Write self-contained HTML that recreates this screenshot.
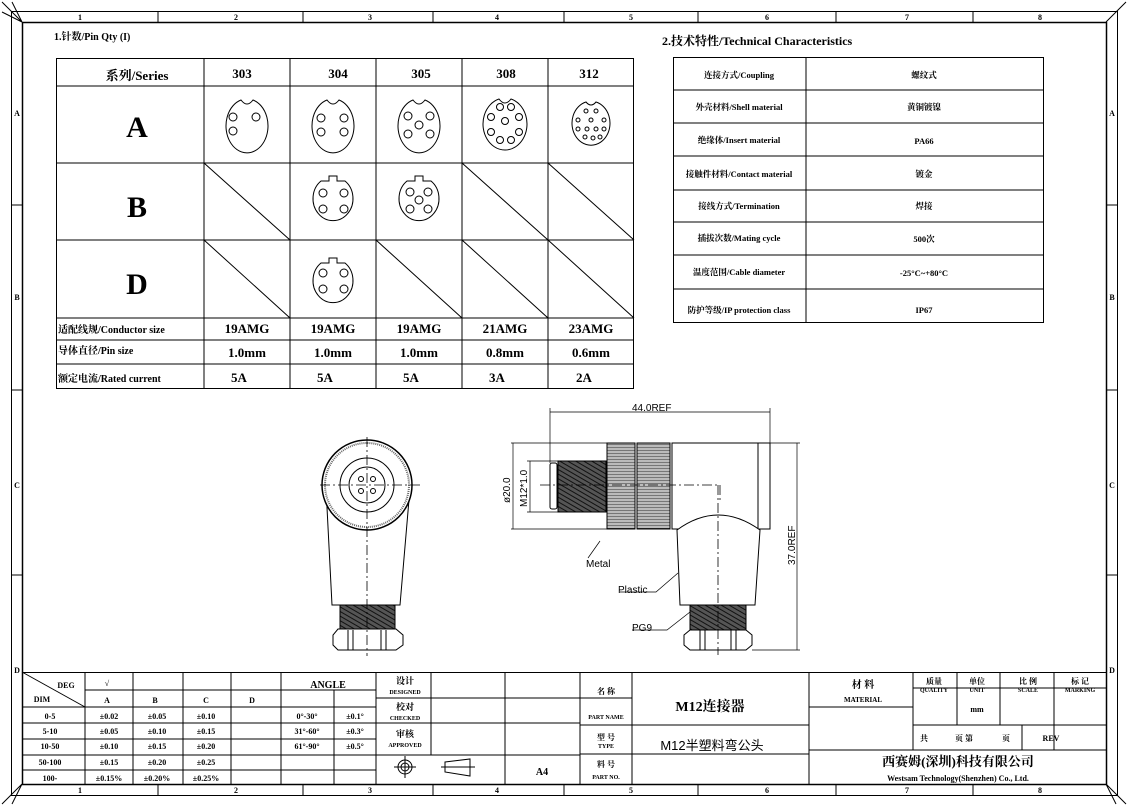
<!DOCTYPE html>
<html><head><meta charset="utf-8"><style>
html,body{margin:0;padding:0;background:#fff}
svg{display:block}
text{font-family:"Liberation Serif","Noto Serif CJK SC","Noto Sans CJK SC",serif;font-weight:bold;fill:#000}
.s{font-family:"Liberation Sans","Noto Sans CJK SC",sans-serif;font-weight:normal}
</style></head><body>
<svg width="1128" height="806" viewBox="0 0 1128 806" xmlns="http://www.w3.org/2000/svg">
<defs>
<pattern id="thr" width="4" height="4" patternUnits="userSpaceOnUse" patternTransform="rotate(-60)">
<rect width="4" height="4" fill="#555"/><line x1="0" y1="0" x2="0" y2="4" stroke="#111" stroke-width="2"/></pattern>
<pattern id="knl" width="6" height="3" patternUnits="userSpaceOnUse">
<rect width="6" height="3" fill="#bbb"/><line x1="0" y1="0" x2="6" y2="0" stroke="#333" stroke-width="1"/></pattern>
</defs>
<g fill="none" stroke="#000" stroke-width="1">
<rect x="11.5" y="11.5" width="1106" height="784"/>
<rect x="22.5" y="22.5" width="1084" height="762" stroke-width="1.5"/>
<path d="M2 2L22 22M2 12L22 22M12 2L22 22M1126 2L1106 22M1126 804L1106 784M1116 804L1106 784M2 804L22 784M12 804L22 784"/>
<path d="M158 11V22M303 11V22M433 11V22M564 11V22M698 11V22M836 11V22M973 11V22"/>
<path d="M158 785V795M303 785V795M433 785V795M564 785V795M698 785V795M836 785V795M973 785V795"/>
<path d="M11 205H22M11 390H22M11 575H22M1106 205H1117M1106 390H1117M1106 575H1117"/>
<rect x="56.5" y="58.5" width="577" height="330"/>
<path d="M56 86H634M56 163H634M56 240H634M56 318H634M56 340H634M56 364H634"/>
<path d="M204 58V388M290 58V388M376 58V388M462 58V388M548 58V388"/>
<path d="M204 163L290 240M462 163L548 240M548 163L634 240M204 240L290 318M376 240L462 318M462 240L548 318M548 240L634 318"/>
<path d="M241 100A21 27 0 1 0 253 100Q247 108 241 100Z"/>
<circle cx="233" cy="117" r="4"/><circle cx="256" cy="117" r="4"/><circle cx="233" cy="131" r="4"/>
<path d="M327 100A21 27 0 1 0 339 100Q333 108 327 100Z"/>
<circle cx="321" cy="118" r="4"/><circle cx="344" cy="118" r="4"/><circle cx="321" cy="132" r="4"/><circle cx="344" cy="132" r="4"/>
<path d="M413 100A21 27 0 1 0 425 100Q419 108 413 100Z"/>
<circle cx="408" cy="116" r="4"/><circle cx="430" cy="116" r="4"/><circle cx="419" cy="125" r="4"/><circle cx="408" cy="134" r="4"/><circle cx="430" cy="134" r="4"/>
<path d="M499 99A22 26 0 1 0 511 99Q505 107 499 99Z"/>
<circle cx="500" cy="107" r="3.5"/><circle cx="511" cy="107" r="3.5"/><circle cx="491" cy="117" r="3.5"/><circle cx="519" cy="117" r="3.5"/><circle cx="505" cy="121" r="3.5"/><circle cx="491" cy="132" r="3.5"/><circle cx="519" cy="132" r="3.5"/><circle cx="500" cy="140" r="3.5"/><circle cx="511" cy="140" r="3.5"/>
<path d="M586 102A19 22 0 1 0 596 102Q591 108 586 102Z"/>
<g transform="translate(591,124)"><circle cx="-5" cy="-13" r="2"/><circle cx="5" cy="-13" r="2"/><circle cx="-13" cy="-4" r="2"/><circle cx="0" cy="-4" r="2"/><circle cx="13" cy="-4" r="2"/><circle cx="-13" cy="5" r="2"/><circle cx="-4" cy="5" r="2"/><circle cx="5" cy="5" r="2"/><circle cx="13" cy="5" r="2"/><circle cx="-6" cy="13" r="2"/><circle cx="2" cy="14" r="2"/><circle cx="9" cy="13" r="2"/></g>
<path d="M329 181V176H337V181H345A20 22 0 1 1 321 181Z"/>
<circle cx="323" cy="193" r="4"/><circle cx="344" cy="193" r="4"/><circle cx="323" cy="209" r="4"/><circle cx="344" cy="209" r="4"/>
<path d="M415 181V176H423V181H431A20 22 0 1 1 407 181Z"/>
<circle cx="410" cy="192" r="4"/><circle cx="428" cy="192" r="4"/><circle cx="419" cy="200" r="4"/><circle cx="410" cy="209" r="4"/><circle cx="428" cy="209" r="4"/>
<path d="M329 263V258H337V263H345A20 22 0 1 1 321 263Z"/>
<circle cx="323" cy="273" r="4"/><circle cx="344" cy="273" r="4"/><circle cx="323" cy="289" r="4"/><circle cx="344" cy="289" r="4"/>
<rect x="673.5" y="57.5" width="370" height="265"/>
<path d="M806 57V322M673 90H1043M673 123H1043M673 156H1043M673 190H1043M673 222H1043M673 255H1043M673 289H1043"/>
<rect x="22.5" y="672.5" width="1084" height="112"/>
<path d="M22 707H376M22 723H376M22 739H376M22 755H376M22 770H376"/>
<path d="M85 690H281M281 690H376M22 672L85 707"/>
<path d="M85 672V785M133 672V785M183 672V785M231 672V785M281 672V785M334 690V785M376 672V785M431 672V755M505 672V785M580 672V785M632 672V785"/>
<path d="M376 698H580M376 723H580M376 755H580M580 698H632M580 725H809M580 754H809M809 672V785M809 707H913M913 672V750M957 672V725M1000 672V725M1054 672V750M913 688H1107M913 725H1107M809 750H1107M1022 725V750"/>
<circle cx="405" cy="767" r="7"/><circle cx="405" cy="767" r="4"/><path d="M394 767H416M405 756V778"/>
<path d="M445 762L470 759V776L445 772ZM441 767H475"/>
</g>
<g font-size="8" text-anchor="middle">
<text x="80" y="20">1</text><text x="236" y="20">2</text><text x="370" y="20">3</text><text x="497" y="20">4</text><text x="631" y="20">5</text><text x="767" y="20">6</text><text x="907" y="20">7</text><text x="1040" y="20">8</text>
<text x="80" y="793">1</text><text x="236" y="793">2</text><text x="370" y="793">3</text><text x="497" y="793">4</text><text x="631" y="793">5</text><text x="767" y="793">6</text><text x="907" y="793">7</text><text x="1040" y="793">8</text>
<text x="17" y="116">A</text><text x="17" y="300">B</text><text x="17" y="488">C</text><text x="17" y="673">D</text>
<text x="1112" y="116">A</text><text x="1112" y="300">B</text><text x="1112" y="488">C</text><text x="1112" y="673">D</text>
</g>
<text x="54" y="40" font-size="10">1.针数/Pin Qty (I)</text>
<g text-anchor="middle" font-size="13">
<text x="137" y="80">系列/Series</text>
<text x="242" y="78">303</text><text x="338" y="78">304</text><text x="421" y="78">305</text><text x="506" y="78">308</text><text x="589" y="78">312</text>
<text x="137" y="137" font-size="30" font-weight="normal">A</text>
<text x="137" y="217" font-size="30" font-weight="normal">B</text>
<text x="137" y="294" font-size="30" font-weight="normal">D</text>
<text x="247" y="333">19AMG</text><text x="333" y="333">19AMG</text><text x="419" y="333">19AMG</text><text x="505" y="333">21AMG</text><text x="591" y="333">23AMG</text>
<text x="247" y="357">1.0mm</text><text x="333" y="357">1.0mm</text><text x="419" y="357">1.0mm</text><text x="505" y="357">0.8mm</text><text x="591" y="357">0.6mm</text>
<text x="239" y="382">5A</text><text x="325" y="382">5A</text><text x="411" y="382">5A</text><text x="497" y="382">3A</text><text x="584" y="382">2A</text>
</g>
<g font-size="10"><text x="58" y="333">适配线规/Conductor size</text><text x="58" y="354">导体直径/Pin size</text><text x="58" y="382">额定电流/Rated current</text></g>
<text x="662" y="45" font-size="12">2.技术特性/Technical Characteristics</text>
<g font-size="8.5" text-anchor="middle">
<text x="739" y="78">连接方式/Coupling</text><text x="924" y="78">螺纹式</text>
<text x="739" y="110">外壳材料/Shell material</text><text x="924" y="110">黄铜镀镍</text>
<text x="739" y="143">绝缘体/Insert material</text><text x="924" y="144">PA66</text>
<text x="739" y="177">接触件材料/Contact material</text><text x="924" y="177">镀金</text>
<text x="739" y="209">接线方式/Termination</text><text x="924" y="209">焊接</text>
<text x="739" y="241">插拔次数/Mating cycle</text><text x="924" y="242">500次</text>
<text x="739" y="275">温度范围/Cable diameter</text><text x="924" y="276">-25°C~+80°C</text>
<text x="739" y="313">防护等级/IP protection class</text><text x="924" y="313">IP67</text>
</g>
<g font-size="8" text-anchor="middle">
<text x="66" y="688">DEG</text><text x="42" y="702">DIM</text>
<text x="107" y="686" font-weight="normal">√</text><text x="328" y="688" font-size="10">ANGLE</text>
<text x="107" y="703">A</text><text x="155" y="703">B</text><text x="206" y="703">C</text><text x="252" y="703">D</text>
<text x="50" y="719">0-5</text><text x="50" y="734">5-10</text><text x="50" y="749">10-50</text><text x="50" y="765">50-100</text><text x="50" y="781">100-</text>
<text x="109" y="719">±0.02</text><text x="157" y="719">±0.05</text><text x="206" y="719">±0.10</text>
<text x="109" y="734">±0.05</text><text x="157" y="734">±0.10</text><text x="206" y="734">±0.15</text>
<text x="109" y="749">±0.10</text><text x="157" y="749">±0.15</text><text x="206" y="749">±0.20</text>
<text x="109" y="765">±0.15</text><text x="157" y="765">±0.20</text><text x="206" y="765">±0.25</text>
<text x="109" y="781">±0.15%</text><text x="157" y="781">±0.20%</text><text x="206" y="781">±0.25%</text>
<text x="307" y="719">0°-30°</text><text x="355" y="719">±0.1°</text>
<text x="307" y="734">31°-60°</text><text x="355" y="734">±0.3°</text>
<text x="307" y="749">61°-90°</text><text x="355" y="749">±0.5°</text>
<text x="405" y="684" font-size="9">设计</text><text x="405" y="694" font-size="6">DESIGNED</text>
<text x="405" y="710" font-size="9">校对</text><text x="405" y="720" font-size="6">CHECKED</text>
<text x="405" y="737" font-size="9">审核</text><text x="405" y="747" font-size="6">APPROVED</text>
<text x="542" y="775" font-size="10">A4</text>
<text x="606" y="694">名 称</text><text x="606" y="719" font-size="6">PART NAME</text>
<text x="606" y="740">型 号</text><text x="606" y="748" font-size="6">TYPE</text>
<text x="606" y="767">料 号</text><text x="606" y="779" font-size="6">PART NO.</text>
<text x="710" y="711" font-size="14">M12连接器</text>
<text x="712" y="750" font-size="13" class="s">M12半塑料弯公头</text>
<text x="863" y="688" font-size="10">材 料</text><text x="863" y="702" font-size="7">MATERIAL</text>
<text x="934" y="684">质量</text><text x="934" y="692" font-size="6">QUALITY</text>
<text x="977" y="684">单位</text><text x="977" y="692" font-size="6">UNIT</text>
<text x="1028" y="684">比 例</text><text x="1028" y="692" font-size="6">SCALE</text>
<text x="1080" y="684">标 记</text><text x="1080" y="692" font-size="6">MARKING</text>
<text x="977" y="712">mm</text>
<text x="924" y="741">共</text><text x="964" y="741">页 第</text><text x="1006" y="741">页</text><text x="1051" y="741">REV</text>
<text x="958" y="766" font-size="13">西赛姆(深圳)科技有限公司</text>
<text x="958" y="781">Westsam Technology(Shenzhen) Co., Ltd.</text>
</g>
<g stroke="#000" fill="none" stroke-width="1">
<path d="M326 488L332 605H400L410 488" fill="#fff"/>
<circle cx="367" cy="485" r="45" fill="#fff" stroke-width="1.5"/>
<circle cx="367" cy="485" r="42" stroke="#666" stroke-width="2" stroke-dasharray="1 1"/>
<circle cx="367" cy="485" r="27"/><circle cx="367" cy="485" r="18"/>
<circle cx="361" cy="479" r="2.5"/><circle cx="373" cy="479" r="2.5"/><circle cx="361" cy="491" r="2.5"/><circle cx="373" cy="491" r="2.5"/>
<rect x="340" y="605" width="55" height="24" fill="url(#thr)"/>
<path d="M338 629H396L403 635V645L396 650H338L333 645V635Z" fill="#fff"/>
<path d="M348 630V650M353 630V650M381 630V650M386 630V650"/>
<path d="M320 485H420M367 437V656" stroke-dasharray="10 3 2 3" stroke-width="0.8"/>
</g>
<g stroke="#000" fill="none" stroke-width="1">
<path d="M672 443H770V529H672Z" fill="#fff"/>
<path d="M758 443V529"/>
<path d="M680 605L677 530Q718 500 760 530L755 605Z" fill="#fff"/>
<rect x="690" y="605" width="56" height="25" fill="url(#thr)"/>
<path d="M690 630H746L752 635V645L746 650H690L684 645V635Z" fill="#fff"/>
<path d="M700 630V650M705 630V650M731 630V650M736 630V650"/>
<rect x="550" y="463" width="7" height="46" rx="2" fill="#fff"/>
<rect x="558" y="461" width="48" height="51" fill="url(#thr)"/>
<rect x="607" y="443" width="28" height="86" fill="url(#knl)"/>
<rect x="637" y="443" width="33" height="86" fill="url(#knl)"/>
<path d="M540 485H720V500M718 485V655" stroke-dasharray="10 3 2 3" stroke-width="0.8"/>
<path d="M550 408V463M770 408V443M550 412H770M511 443H607M511 529H607M513 443V529M527 461H558M527 512H558M530 461V512M770 443H800M752 650H800M797 443V650" stroke-width="0.7"/>
<path d="M600 541L588 558M678 573L656 592H620M690 612L667 630H632" stroke-width="0.7"/>
</g>
<text x="632" y="411" class="s" font-size="10">44.0REF</text>
<text x="586" y="567" class="s" font-size="10">Metal</text>
<text x="618" y="593" class="s" font-size="10">Plastic</text>
<text x="632" y="631" class="s" font-size="10">PG9</text>
<text class="s" font-size="10" transform="translate(510,503) rotate(-90)">ø20.0</text>
<text class="s" font-size="10" transform="translate(527,507) rotate(-90)">M12*1.0</text>
<text class="s" font-size="10" transform="translate(795,565) rotate(-90)">37.0REF</text>
</svg>
</body></html>
